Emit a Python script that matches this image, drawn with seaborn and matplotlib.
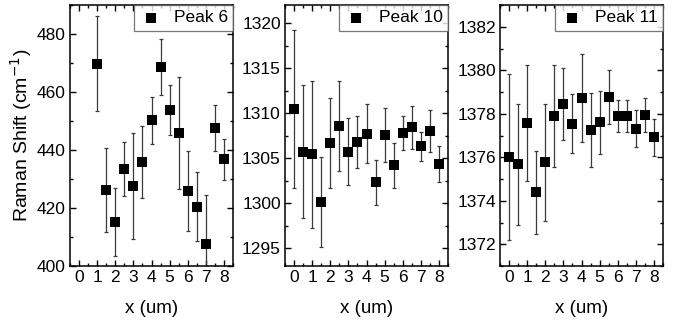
import numpy as np
import pandas as pd
import matplotlib
matplotlib.use("Agg")
import matplotlib.pyplot as plt
from matplotlib.ticker import MultipleLocator
import seaborn as sns

# ---- data ----
x6 = [1, 1.5, 2, 2.5, 3, 3.5, 4, 4.5, 5, 5.5, 6, 6.5, 7, 7.5, 8]
peak6 = [469.8, 426.1, 415.1, 433.3, 427.5, 435.8, 450.3, 468.5, 453.8, 445.8, 425.7, 420.5, 407.7, 447.5, 436.8]
err6 = [16.5, 14.5, 11.7, 9.3, 18.2, 12.5, 8.1, 9.7, 8.5, 19.3, 13.8, 11.8, 16.8, 8.0, 7.0]

x10 = [0, 0.5, 1, 1.5, 2, 2.5, 3, 3.5, 4, 4.5, 5, 5.5, 6, 6.5, 7, 7.5, 8]
peak10 = [1310.45, 1305.7, 1305.4, 1300.1, 1306.7, 1308.6, 1305.7, 1306.8, 1307.7, 1302.3,
          1307.6, 1304.2, 1307.8, 1308.4, 1306.3, 1308.0, 1304.3]
err10 = [8.8, 7.4, 8.2, 5.0, 5.0, 5.0, 3.7, 2.9, 3.3, 2.5, 3.0, 2.5, 1.9, 2.4, 1.6, 2.3, 2.0]

x11 = [0, 0.5, 1, 1.5, 2, 2.5, 3, 3.5, 4, 4.5, 5, 5.5, 6, 6.5, 7, 7.5, 8]
peak11 = [1376.0, 1375.67, 1377.58, 1374.38, 1375.78, 1377.9, 1378.45, 1377.55, 1378.73, 1377.25,
          1377.6, 1378.76, 1377.88, 1377.88, 1377.31, 1377.94, 1376.93]
err11 = [3.82, 2.8, 2.68, 1.9, 2.69, 2.35, 1.66, 1.35, 2.03, 1.7, 1.45, 1.23, 0.73, 0.73, 0.86, 0.8, 0.85]

labels = ["Peak 6", "Peak 10", "Peak 11"]
ylims = [(400, 490), (1293, 1322), (1371, 1383)]
ymajor = [20, 5, 2]
yminor = [10, 2.5, 1]

sns.set_theme(style="ticks")
plt.rcParams["font.family"] = ["Liberation Sans", "DejaVu Sans"]
plt.rcParams["axes.linewidth"] = 1.1
for k in ["text.color", "axes.labelcolor", "xtick.color", "ytick.color", "axes.edgecolor"]:
    plt.rcParams[k] = "black"

fig = plt.figure(figsize=(6.88, 3.29), dpi=100)
lefts = [70, 285, 500]
W, H = 688, 329
axes = []
for l in lefts:
    axes.append(fig.add_axes([l / W, (H - 266) / H, 163 / W, 261 / H]))

series = [(x6, peak6, err6), (x10, peak10, err10), (x11, peak11, err11)]
for i, (ax, (xs, ys, es)) in enumerate(zip(axes, series)):
    df = pd.DataFrame({"x": xs, "y": ys, "e": es})
    ax.errorbar(df["x"], df["y"], yerr=df["e"], fmt="none", ecolor="#3a3a3a",
                elinewidth=0.9, capsize=1.6, capthick=0.9, zorder=2)
    sns.scatterplot(data=df, x="x", y="y", marker="s", s=52, color="black",
                    edgecolor="black", linewidth=0, ax=ax, zorder=3, label=labels[i])
    ax.set_xlim(-0.5, 8.5)
    ax.set_ylim(*ylims[i])
    ax.xaxis.set_major_locator(MultipleLocator(1))
    ax.xaxis.set_minor_locator(MultipleLocator(0.5))
    ax.yaxis.set_major_locator(MultipleLocator(ymajor[i]))
    ax.yaxis.set_minor_locator(MultipleLocator(yminor[i]))
    ax.tick_params(which="both", direction="in", top=True, right=True, color="black",
                   labelcolor="black")
    ax.tick_params(which="major", length=4, width=1, labelsize=12.5, pad=3)
    ax.tick_params(which="minor", length=2, width=1)
    for sp in ax.spines.values():
        sp.set_color("black")
    ax.set_xlabel("x (um)", fontsize=13.5, labelpad=11, color="black")
    ax.set_ylabel("")
    leg = ax.legend(loc="upper right", borderaxespad=0, fontsize=12.5, frameon=True,
                    fancybox=False, handletextpad=0.6, markerscale=1.0,
                    borderpad=0.3, handlelength=1.4)
    for t in leg.get_texts():
        t.set_color("black")
    leg.get_frame().set_edgecolor("#555555")
    leg.get_frame().set_linewidth(0.9)

axes[0].set_ylabel("Raman Shift (cm$^{-1}$)", fontsize=14, labelpad=2, color="black")

fig.savefig("out.png", dpi=100)
